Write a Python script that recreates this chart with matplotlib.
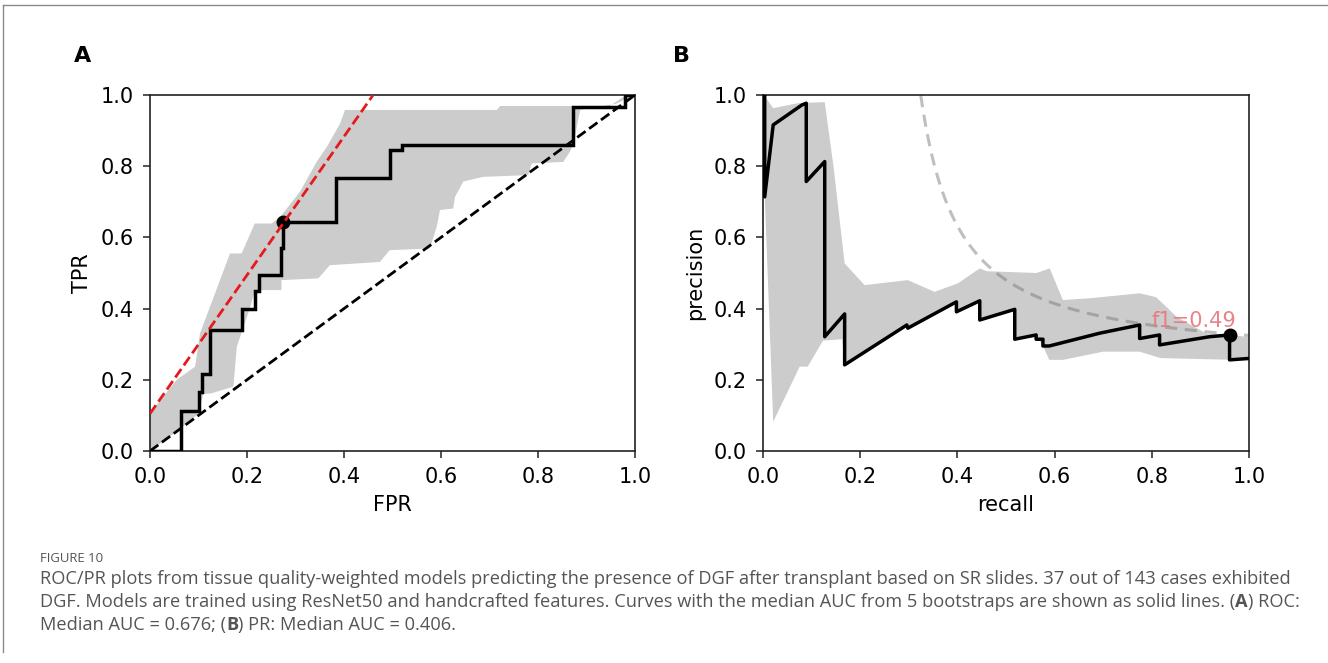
import numpy as np
import matplotlib
matplotlib.use("Agg")
import matplotlib.pyplot as plt
from matplotlib.lines import Line2D

# ---------------- data ----------------
# ROC (panel A): step points (x, y after step)
roc_fpr = [0.0, 0.064, 0.102, 0.107, 0.124, 0.190, 0.2165, 0.2247, 0.270, 0.275, 0.383, 0.494, 0.519, 0.873, 0.979, 1.0]
roc_tpr = [0.0, 0.113, 0.167, 0.216, 0.340, 0.398, 0.450, 0.494, 0.569, 0.644, 0.766, 0.846, 0.860, 0.967, 1.0, 1.0]
roc_best = (0.275, 0.644)
roc_tangent_x = [0.0, 0.46]
roc_tangent_y = [0.105, 1.0]

roc_band_upper_x = [0.0, 0.0, 0.02, 0.055, 0.093, 0.103, 0.165, 0.189, 0.216, 0.251, 0.27, 0.31, 0.344, 0.365, 0.392, 0.402, 0.715, 0.722, 0.948, 0.976, 1.0]
roc_band_upper_y = [0.0, 0.106, 0.14, 0.20, 0.237, 0.330, 0.555, 0.555, 0.639, 0.639, 0.66, 0.73, 0.813, 0.855, 0.92, 0.958, 0.958, 0.969, 0.969, 0.995, 1.0]
roc_band_lower_x = [0.0, 0.06, 0.10, 0.11, 0.127, 0.172, 0.179, 0.206, 0.2165, 0.271, 0.271, 0.347, 0.371, 0.474, 0.494, 0.577, 0.591, 0.598, 0.625, 0.629, 0.646, 0.687, 0.780, 0.787, 0.852, 0.866, 0.873, 0.887, 0.96, 1.0]
roc_band_lower_y = [0.0, 0.06, 0.105, 0.16, 0.162, 0.181, 0.293, 0.401, 0.452, 0.452, 0.480, 0.485, 0.522, 0.531, 0.564, 0.569, 0.629, 0.677, 0.681, 0.714, 0.757, 0.770, 0.775, 0.808, 0.812, 0.841, 0.864, 0.958, 0.975, 1.0]

# PR (panel B)
pr_recall = [0.0035, 0.0035, 0.021, 0.080, 0.089, 0.089, 0.127, 0.127, 0.168, 0.168, 0.296, 0.298, 0.398, 0.398, 0.446, 0.446, 0.518, 0.518, 0.562, 0.562, 0.576, 0.576, 0.589, 0.693, 0.775, 0.775, 0.816, 0.816, 0.919, 0.960, 0.960, 1.0]
pr_precision = [1.0, 0.714, 0.916, 0.972, 0.977, 0.757, 0.813, 0.321, 0.385, 0.242, 0.354, 0.345, 0.419, 0.391, 0.422, 0.368, 0.398, 0.314, 0.326, 0.314, 0.314, 0.295, 0.295, 0.331, 0.354, 0.316, 0.326, 0.298, 0.321, 0.326, 0.256, 0.260]
pr_best = (0.960, 0.326)
best_f1 = 0.49

pr_band_upper_x = [0.002, 0.021, 0.072, 0.127, 0.145, 0.168, 0.209, 0.298, 0.353, 0.401, 0.446, 0.460, 0.563, 0.590, 0.617, 0.672, 0.775, 0.809, 0.851, 0.912, 0.960, 1.0]
pr_band_upper_y = [1.0, 0.963, 0.977, 0.98, 0.80, 0.527, 0.466, 0.480, 0.447, 0.471, 0.513, 0.505, 0.500, 0.513, 0.424, 0.429, 0.443, 0.432, 0.377, 0.33, 0.326, 0.32]
pr_band_lower_x = [0.0035, 0.021, 0.0755, 0.092, 0.1235, 0.163, 0.168, 0.296, 0.298, 0.398, 0.398, 0.446, 0.446, 0.518, 0.518, 0.562, 0.576, 0.589, 0.617, 0.70, 0.775, 0.818, 1.0]
pr_band_lower_y = [0.72, 0.082, 0.237, 0.237, 0.31, 0.314, 0.242, 0.354, 0.345, 0.419, 0.391, 0.422, 0.368, 0.398, 0.314, 0.326, 0.295, 0.256, 0.256, 0.279, 0.279, 0.261, 0.255]

ticks = [0.0, 0.2, 0.4, 0.6, 0.8, 1.0]
tick_labels = ["0.0", "0.2", "0.4", "0.6", "0.8", "1.0"]

caption_title = "FIGURE 10"
caption_lines = [
    [("ROC/PR plots from tissue quality-weighted models predicting the presence of DGF after transplant based on SR slides. 37 out of 143 cases exhibited", "normal")],
    [("DGF. Models are trained using ResNet50 and handcrafted features. Curves with the median AUC from 5 bootstraps are shown as solid lines. (", "normal"),
     ("A", "bold"), (") ROC:", "normal")],
    [("Median AUC = 0.676; (", "normal"), ("B", "bold"), (") PR: Median AUC = 0.406.", "normal")],
]

# ---------------- figure ----------------
W, H = 1328, 663
fig = plt.figure(figsize=(W / 100, H / 100), dpi=100)
fig.patch.set_facecolor("white")

band_color = "#cccccc"


def style_axes(ax, xlabel, ylabel):
    ax.set_xlim(0, 1)
    ax.set_ylim(0, 1)
    ax.set_xticks(ticks)
    ax.set_xticklabels(tick_labels)
    ax.set_yticks(ticks)
    ax.set_yticklabels(tick_labels)
    ax.tick_params(labelsize=15, length=5, width=1.1, pad=6.5, color="#222222")
    for s in ax.spines.values():
        s.set_linewidth(1.2)
        s.set_color("#222222")
    ax.set_xlabel(xlabel, fontsize=15, labelpad=6)
    ax.set_ylabel(ylabel, fontsize=15, labelpad=6)


axA = fig.add_axes([150 / W, (H - 451) / H, 485 / W, 356 / H])
axB = fig.add_axes([763 / W, (H - 451) / H, 486 / W, 356 / H])

# Panel A
poly_x = list(roc_band_upper_x) + list(roc_band_lower_x[::-1])
poly_y = list(roc_band_upper_y) + list(roc_band_lower_y[::-1])
axA.fill(poly_x, poly_y, color=band_color, lw=0, zorder=1)
axA.plot([0, 1], [0, 1], ls="--", color="black", lw=2, zorder=2)
axA.plot(roc_fpr, roc_tpr, drawstyle="steps-post", color="black", lw=2.5, zorder=3, solid_joinstyle="miter")
axA.plot([roc_best[0]], [roc_best[1]], "o", color="black", ms=9, zorder=4)
axA.plot(roc_tangent_x, roc_tangent_y, ls="--", color="#e41a1c", lw=2, zorder=5)
style_axes(axA, "FPR", "TPR")

# Panel B
poly_x = list(pr_band_upper_x) + list(pr_band_lower_x[::-1])
poly_y = list(pr_band_upper_y) + list(pr_band_lower_y[::-1])
axB.fill(poly_x, poly_y, color=band_color, lw=0, zorder=1)
r = np.linspace(best_f1 / (2 - best_f1), 1.0, 300)
p = best_f1 * r / (2 * r - best_f1)
axB.plot(r, p, color="0.45", alpha=0.45, lw=2.2, dashes=(4, 2.5), zorder=2)
axB.plot(pr_recall, pr_precision, color="black", lw=2.5, zorder=3)
axB.plot([pr_best[0]], [pr_best[1]], "o", color="black", ms=9, zorder=4)
axB.text(0.80, 0.348, "f1=%.2f" % best_f1, color="#e8767c", fontsize=15, ha="left", va="baseline", zorder=5, alpha=0.9)
style_axes(axB, "recall", "precision")

# Panel labels
fig.text(83 / W, 1 - 56 / H, "A", fontsize=16, fontweight="bold", ha="center", va="center")
fig.text(681 / W, 1 - 56 / H, "B", fontsize=16, fontweight="bold", ha="center", va="center")

# Frame lines
fig.add_artist(Line2D([2.5 / W, 1.0], [1 - 5 / H, 1 - 5 / H], transform=fig.transFigure, color="#8a8a8a", lw=1))
fig.add_artist(Line2D([2.5 / W, 2.5 / W], [1 - 5 / H, 1 - 652 / H], transform=fig.transFigure, color="#8a8a8a", lw=1))

# Caption
cap_font = ["Open Sans", "DejaVu Sans"]
cap_color = "#555555"
fig.canvas.draw()
renderer = fig.canvas.get_renderer()

# fit font size so that the first line spans ~1255 px
probe = fig.text(0, 0, caption_lines[0][0][0], fontsize=10, family=cap_font)
w10 = probe.get_window_extent(renderer).width
probe.remove()
cap_size = 10 * 1255 / w10

fig.text(40 / W, 1 - 558 / H, caption_title, fontsize=cap_size * 0.72, family=cap_font,
         color=cap_color, ha="left", va="center")

line_y = [579, 602, 625]
for segs, yy in zip(caption_lines, line_y):
    x = 40.0
    for txt, wt in segs:
        t = fig.text(x / W, 1 - yy / H, txt, fontsize=cap_size, family=cap_font, fontweight=wt,
                     color=cap_color, ha="left", va="center")
        x += t.get_window_extent(renderer).width

fig.savefig("out.png", dpi=100, facecolor="white")
